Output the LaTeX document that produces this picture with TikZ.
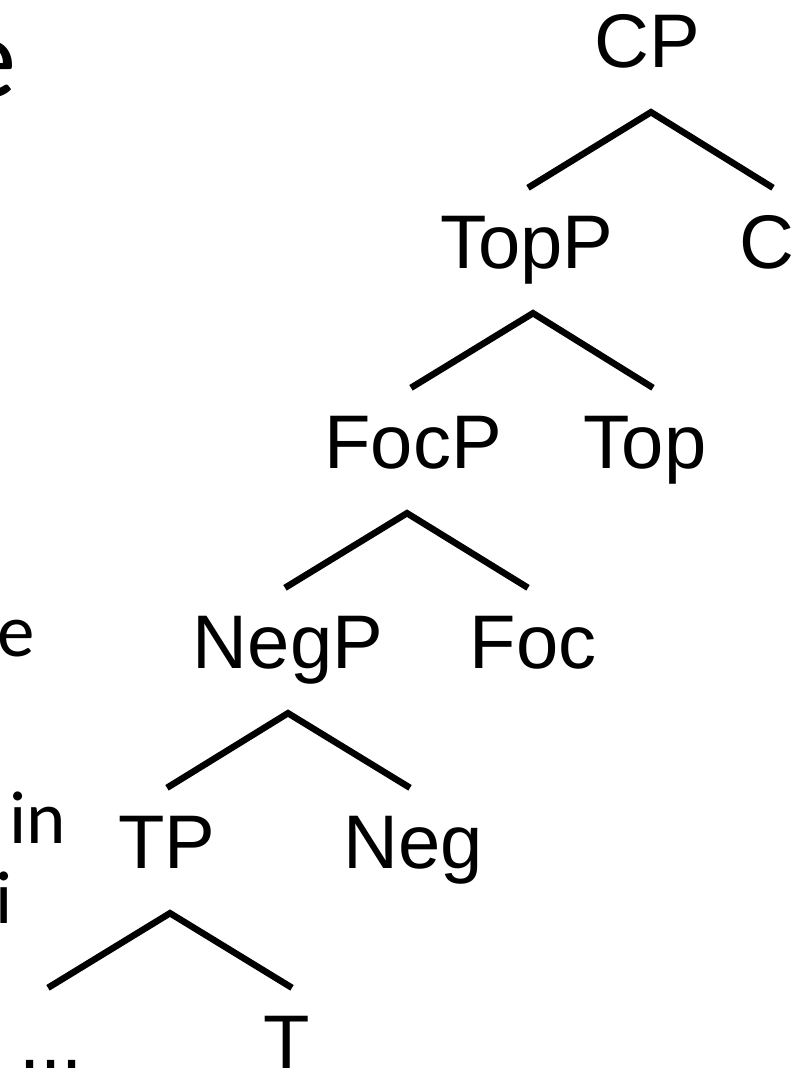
\documentclass[tikz,border=0pt]{standalone}
\usepackage{fontspec}
\newfontfamily\treefont{Liberation Sans}
\newfontfamily\slidefont{Carlito}
\begin{document}
\begin{tikzpicture}[x=1pt,y=-1pt,
  cat/.style={inner sep=0pt, anchor=base, text height=80pt, text depth=0pt,
    font=\treefont\fontsize{76}{90}\selectfont},
  slidetext/.style={inner sep=0pt, anchor=base east,
    font=\slidefont\fontsize{75}{90}\selectfont},
  branch/.style={line width=6.5pt, line join=miter}]
\useasboundingbox (0,0) rectangle (805,1074);
\clip (0,0) rectangle (805,1074);

% fragments of the running slide text at the left edge
\node[slidetext, font=\slidefont\fontsize{117}{130}\selectfont] (title) at (17,97) {e};
\node[slidetext] (frA) at (35,656) {e};
\node[slidetext] (frB) at (66,843) {in};
\node[slidetext] (frC) at (13,923) {i};

% tree labels (base line at the given point, top of box where branches end)
\node[cat] (CP)   at (647,67)  {CP};
\node[cat] (TopP) at (527,268) {TopP};
\node[cat] (C)    at (767,268) {C};
\node[cat] (FocP) at (413,468) {FocP};
\node[cat] (Top)  at (645,468) {Top};
\node[cat] (NegP) at (288,668) {NegP};
\node[cat] (Foc)  at (533,668) {Foc};
\node[cat] (TP)   at (167,868) {TP};
\node[cat] (Neg)  at (413,868) {Neg};
\node[cat] (dots) at (51,1068) {...};
\node[cat] (T)    at (287,1068) {T};

% branches: apex 45pt below the mother's base line
\tikzset{apex/.style={yshift=-45pt}}
\draw[branch] ([xshift=1pt]TopP.north) -- ([apex,xshift=4pt]CP.south) -- ([xshift=6pt]C.north);
\draw[branch] ([xshift=-2pt]FocP.north) -- ([apex,xshift=6pt]TopP.south) -- ([xshift=8pt]Top.north);
\draw[branch] ([xshift=-3pt]NegP.north) -- ([apex,xshift=-6pt]FocP.south) -- ([xshift=-5pt]Foc.north);
\draw[branch] ([xshift=0pt]TP.north) -- ([apex,xshift=0pt]NegP.south) -- ([xshift=-3pt]Neg.north);
\draw[branch] ([xshift=-3pt]dots.north) -- ([apex,xshift=3pt]TP.south) -- ([xshift=5pt]T.north);
\end{tikzpicture}
\end{document}
